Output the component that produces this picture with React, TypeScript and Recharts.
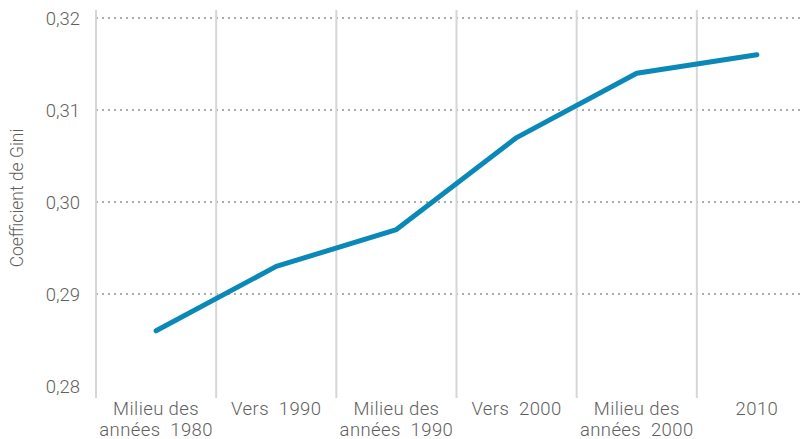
import React from "react";
import { LineChart, Line, XAxis, YAxis, ReferenceLine, Label } from "recharts";

const categories = [
  ["Milieu des", "années  1980"],
  ["Vers  1990"],
  ["Milieu des", "années  1990"],
  ["Vers  2000"],
  ["Milieu des", "années  2000"],
  ["2010"],
];
const giniValues = [0.286, 0.293, 0.297, 0.307, 0.314, 0.316];
const yTicks = [0.28, 0.29, 0.3, 0.31, 0.32];
const gridY = [0.29, 0.3, 0.31, 0.32];
const boundaries = [-0.5, 0.5, 1.5, 2.5, 3.5, 4.5];

const data = giniValues.map((v, i) => ({ i, v }));

const FONT = "Roboto, 'Noto Sans', sans-serif";
const TXT = "#5f5f5f";

const XTick = (props: any) => {
  const { x, y, payload } = props;
  const lines = categories[payload.value] || [];
  return (
    <g>
      {lines.map((l, k) => (
        <text
          key={k}
          x={x}
          y={y + 17 + k * 21}
          textAnchor="middle"
          fill={TXT}
          fontSize={18.5}
          fontFamily={FONT}
          fontWeight={300}
          letterSpacing={0.4}
          style={{ whiteSpace: "pre" }}
        >
          {l}
        </text>
      ))}
    </g>
  );
};

export default function App() {
  return (
    <div style={{ margin: "-8px 0 0 -8px", width: 811, height: 439, overflow: "hidden", position: "relative" }}>
      <LineChart
        width={830}
        height={439}
        data={data}
        margin={{ top: 10, right: 13, bottom: 1, left: 0 }}
      >
        <XAxis
          dataKey="i"
          type="number"
          domain={[-0.5, 5.5]}
          ticks={[0, 1, 2, 3, 4, 5]}
          axisLine={false}
          tickLine={false}
          tickSize={0}
          tickMargin={0}
          height={40}
          tick={<XTick />}
          interval={0}
          allowDataOverflow
        />
        <YAxis
          type="number"
          domain={[0.278696, 0.32087]}
          ticks={yTicks}
          allowDataOverflow
          width={96}
          axisLine={false}
          tickLine={false}
          tickSize={0}
          tickMargin={16}
          tickFormatter={(v: number) => v.toFixed(2).replace(".", ",")}
          tick={{ fill: TXT, fontSize: 18.5, fontFamily: FONT, fontWeight: 300 }}
        >
          <Label
            content={() => (
              <text
                x={17}
                y={198}
                transform="rotate(-90 17 198)"
                textAnchor="middle"
                dominantBaseline="central"
                fill={TXT}
                fontSize={17.5}
                fontFamily={FONT}
                fontWeight={300}
              >
                Coefficient de Gini
              </text>
            )}
          />
        </YAxis>
        {gridY.map((g) => (
          <ReferenceLine key={"h" + g} y={g} stroke="#ababab" strokeWidth={2} strokeDasharray="2 4" />
        ))}
        {boundaries.map((b) => (
          <ReferenceLine key={"v" + b} x={b} stroke="#d6d6d6" strokeWidth={2} />
        ))}
        <Line
          dataKey="v"
          stroke="#0a89b9"
          strokeWidth={5}
          strokeLinecap="round"
          strokeLinejoin="round"
          dot={false}
          activeDot={false}
          isAnimationActive={false}
        />
      </LineChart>
    </div>
  );
}
